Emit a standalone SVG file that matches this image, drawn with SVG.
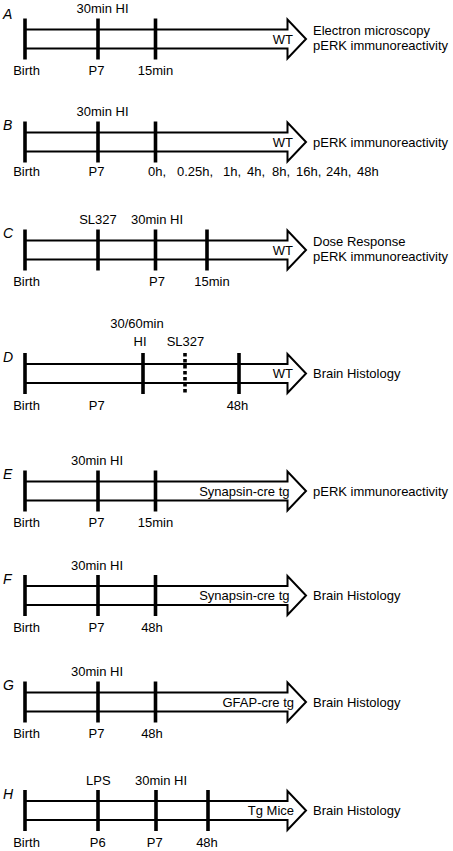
<svg xmlns="http://www.w3.org/2000/svg" xmlns:xlink="http://www.w3.org/1999/xlink" width="453" height="851" viewBox="0 0 453 851">
<style>
.bg{fill:#fff}
.arr{fill:#fff;stroke:#000;stroke-width:2;stroke-linejoin:miter}
.tk{stroke:#000;stroke-width:3.6;fill:none}
.dash{stroke:#000;stroke-width:3.6;fill:none;stroke-dasharray:3.6 2.4}
text{font-family:"Liberation Sans",Arial,Helvetica,sans-serif;font-size:13px;fill:#000}
.m{text-anchor:middle}
.e{text-anchor:end}
.lt{font-style:italic;font-size:14px}
</style>
<defs>
<path id="arrow" class="arr" d="M24,-9.5 H287.5 V-19.5 L306,0 L287.5,19.5 V9.5 H24"/>
<path id="tick" class="tk" d="M0,-20.5 V20.5"/>
</defs>
<rect class="bg" x="0" y="0" width="453" height="851"/>

<g id="panelA" transform="translate(0,39)">
<use xlink:href="#arrow"/>
<use xlink:href="#tick" x="25"/><use xlink:href="#tick" x="98"/><use xlink:href="#tick" x="155.5"/>
<text class="lt" x="3" y="-20.5">A</text>
<text class="m" x="102.5" y="-26">30min HI</text>
<text class="m" x="26.5" y="36">Birth</text>
<text class="m" x="96.5" y="36">P7</text>
<text class="m" x="155.5" y="36">15min</text>
<text class="e" x="293" y="4.5">WT</text>
<text x="313" y="-4">Electron microscopy</text>
<text x="313" y="10.5">pERK immunoreactivity</text>
</g>

<g id="panelB" transform="translate(0,142)">
<use xlink:href="#arrow"/>
<use xlink:href="#tick" x="25"/><use xlink:href="#tick" x="98"/><use xlink:href="#tick" x="155.5"/>
<text class="lt" x="3" y="-12">B</text>
<text class="m" x="102.5" y="-26">30min HI</text>
<text class="m" x="26.5" y="34">Birth</text>
<text class="m" x="96.5" y="34">P7</text>
<text y="34"><tspan x="148">0h,</tspan><tspan x="177">0.25h,</tspan><tspan x="223">1h,</tspan><tspan x="247">4h,</tspan><tspan x="272">8h,</tspan><tspan x="296">16h,</tspan><tspan x="326">24h,</tspan><tspan x="357">48h</tspan></text>
<text class="e" x="293" y="4.5">WT</text>
<text x="313" y="4.5">pERK immunoreactivity</text>
</g>

<g id="panelC" transform="translate(0,250)">
<use xlink:href="#arrow"/>
<use xlink:href="#tick" x="25"/><use xlink:href="#tick" x="98"/><use xlink:href="#tick" x="155.5"/><use xlink:href="#tick" x="207"/>
<text class="lt" x="3" y="-12">C</text>
<text class="m" x="98" y="-26">SL327</text>
<text class="m" x="157" y="-26">30min HI</text>
<text class="m" x="26.5" y="36">Birth</text>
<text class="m" x="157" y="36">P7</text>
<text class="m" x="212" y="36">15min</text>
<text class="e" x="293" y="4.5">WT</text>
<text x="313" y="-4">Dose Response</text>
<text x="313" y="10.5">pERK immunoreactivity</text>
</g>

<g id="panelD" transform="translate(0,373.5)">
<use xlink:href="#arrow"/>
<use xlink:href="#tick" x="25"/><use xlink:href="#tick" x="143"/><use xlink:href="#tick" x="239"/>
<path class="dash" d="M185,-20.5 V20.5"/>
<text class="lt" x="3" y="-12">D</text>
<text class="m" x="137" y="-46">30/60min</text>
<text class="m" x="140" y="-28">HI</text>
<text class="m" x="185.5" y="-28">SL327</text>
<text class="m" x="26.5" y="36">Birth</text>
<text class="m" x="96.7" y="36">P7</text>
<text class="m" x="237.5" y="36">48h</text>
<text class="e" x="293" y="4.5">WT</text>
<text x="313" y="4.5">Brain Histology</text>
</g>

<g id="panelE" transform="translate(0,491)">
<use xlink:href="#arrow"/>
<use xlink:href="#tick" x="25"/><use xlink:href="#tick" x="98"/><use xlink:href="#tick" x="155.5"/>
<text class="lt" x="3" y="-12">E</text>
<text class="m" x="97" y="-26">30min HI</text>
<text class="m" x="26.5" y="36">Birth</text>
<text class="m" x="96.5" y="36">P7</text>
<text class="m" x="155.5" y="36">15min</text>
<text class="e" x="289.5" y="4.5">Synapsin-cre tg</text>
<text x="313" y="4.5">pERK immunoreactivity</text>
</g>

<g id="panelF" transform="translate(0,595.5)">
<use xlink:href="#arrow"/>
<use xlink:href="#tick" x="25"/><use xlink:href="#tick" x="98"/><use xlink:href="#tick" x="155.5"/>
<text class="lt" x="3" y="-12">F</text>
<text class="m" x="97" y="-26">30min HI</text>
<text class="m" x="26.5" y="36">Birth</text>
<text class="m" x="96.5" y="36">P7</text>
<text class="m" x="152" y="36">48h</text>
<text class="e" x="289.5" y="4.5">Synapsin-cre tg</text>
<text x="313" y="4.5">Brain Histology</text>
</g>

<g id="panelG" transform="translate(0,702)">
<use xlink:href="#arrow"/>
<use xlink:href="#tick" x="25"/><use xlink:href="#tick" x="98"/><use xlink:href="#tick" x="155.5"/>
<text class="lt" x="3" y="-12">G</text>
<text class="m" x="97" y="-26">30min HI</text>
<text class="m" x="26.5" y="36">Birth</text>
<text class="m" x="96.5" y="36">P7</text>
<text class="m" x="152" y="36">48h</text>
<text class="e" x="294" y="4.5">GFAP-cre tg</text>
<text x="313" y="4.5">Brain Histology</text>
</g>

<g id="panelH" transform="translate(0,810.5)">
<use xlink:href="#arrow"/>
<use xlink:href="#tick" x="25"/><use xlink:href="#tick" x="98"/><use xlink:href="#tick" x="156"/><use xlink:href="#tick" x="208"/>
<text class="lt" x="3" y="-12">H</text>
<text class="m" x="98.3" y="-26">LPS</text>
<text class="m" x="161" y="-26">30min HI</text>
<text class="m" x="26.5" y="36">Birth</text>
<text class="m" x="97.7" y="36">P6</text>
<text class="m" x="154.7" y="36">P7</text>
<text class="m" x="207" y="36">48h</text>
<text class="e" x="294" y="4.5">Tg Mice</text>
<text x="313" y="4.5">Brain Histology</text>
</g>
</svg>
